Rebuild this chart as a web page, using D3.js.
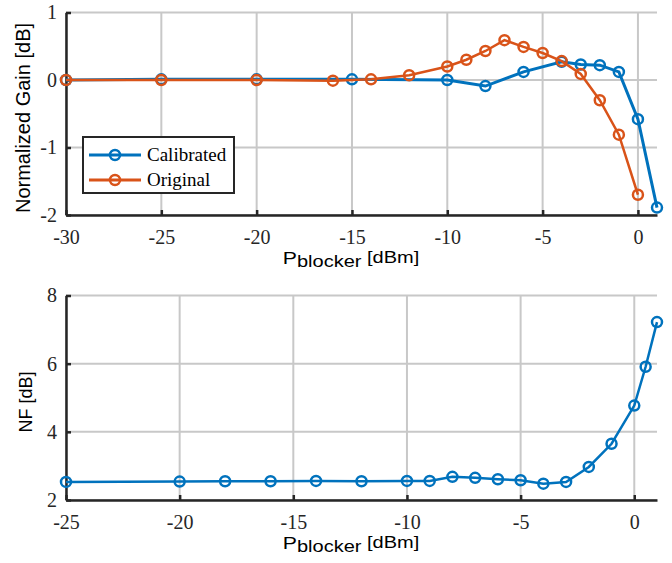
<!DOCTYPE html>
<html>
<head>
<meta charset="utf-8">
<script src="https://cdn.jsdelivr.net/npm/d3@7"></script>
<style>
  body { margin: 0; background: #fff; }
</style>
</head>
<body>
<svg width="672" height="563"></svg>
<script>
// gain vs blocker power (top)
var gainX = [-30, -25, -20, -15, -10, -8, -6, -4, -3, -2, -1, 0, 1];
var gainCal = [0, 0.01, 0.01, 0.01, 0, -0.09, 0.12, 0.27, 0.23, 0.22, 0.12, -0.58, -1.89];
var origX = [-30, -25, -20, -16, -14, -12, -10, -9, -8, -7, -6, -5, -4, -3, -2, -1, 0];
var gainOrig = [0, 0, 0, -0.01, 0.01, 0.07, 0.2, 0.3, 0.43, 0.59, 0.49, 0.4, 0.28, 0.09, -0.3, -0.81, -1.7];
// noise figure (bottom)
var nfX = [-25, -20, -18, -16, -14, -12, -10, -9, -8, -7, -6, -5, -4, -3, -2, -1, 0, 0.5, 1];
var nfVal = [2.53, 2.54, 2.55, 2.55, 2.56, 2.55, 2.56, 2.56, 2.68, 2.65, 2.61, 2.58, 2.48, 2.53, 2.97, 3.65, 4.77, 5.91, 7.22];

var topXTicks = [-30, -25, -20, -15, -10, -5, 0];
var topYTicks = [-2, -1, 0, 1];
var botXTicks = [-25, -20, -15, -10, -5, 0];
var botYTicks = [2, 4, 6, 8];

var blue = "#0072BD", orange = "#D95319";
var serif = "'Liberation Serif', 'Times New Roman', serif",
    sans = "'Liberation Sans', Arial, sans-serif";
var svg = d3.select("svg");

function panel(xDom, yDom, top, bottom, xt, yt, ylabel, ySize, yLabX, yLabMid) {
  var x = d3.scaleLinear().domain(xDom).range([66, 657]);
  var y = d3.scaleLinear().domain(yDom).range([bottom, top]);
  var g = svg.append("g");

  // grid
  g.selectAll(".gx").data(xt).enter().append("line")
    .attr("x1", d => x(d)).attr("x2", d => x(d))
    .attr("y1", top).attr("y2", bottom)
    .attr("stroke", "#c8c8c8").attr("stroke-width", 2);
  g.selectAll(".gy").data(yt).enter().append("line")
    .attr("x1", 66).attr("x2", 657)
    .attr("y1", d => y(d)).attr("y2", d => y(d))
    .attr("stroke", "#c8c8c8").attr("stroke-width", 2);

  var ax = g.append("g").attr("transform", "translate(0," + bottom + ")")
    .call(d3.axisBottom(x).tickValues(xt).tickSizeInner(-5).tickSizeOuter(0).tickPadding(15));
  var ay = g.append("g").attr("transform", "translate(66,0)")
    .call(d3.axisLeft(y).tickValues(yt).tickSizeInner(-5).tickSizeOuter(0).tickPadding(9));
  [ax, ay].forEach(a => {
    a.attr("font-size", null).attr("font-family", null);
    a.select(".domain").attr("stroke", "#262626").attr("stroke-width", 2.5);
    a.selectAll(".tick line").attr("stroke", "#262626").attr("stroke-width", 2.5);
    a.selectAll(".tick text").text(d => d)
      .style("font-family", serif).style("font-size", "20px").attr("fill", "#262626");
  });

  // x label, a little wider than the plain font
  var t = g.append("text").style("font-family", sans).attr("fill", "#000")
    .attr("transform", "translate(351," + (bottom + 49) + ") scale(1.25,1)")
    .attr("text-anchor", "middle");
  t.append("tspan").style("font-size", "17px").text("P");
  t.append("tspan").style("font-size", "16px").attr("dy", 3).text("blocker");
  t.append("tspan").style("font-size", "16px").attr("dy", -4).text(" [dBm]");

  g.append("text").style("font-family", sans).attr("fill", "#000")
    .attr("transform", "translate(" + yLabX + "," + yLabMid + ") rotate(-90)")
    .attr("text-anchor", "middle").style("font-size", ySize + "px").text(ylabel);

  return {x: x, y: y, g: g};
}

function series(p, xs, ys, color, w) {
  var pts = xs.map((d, i) => [d, ys[i]]);
  p.g.append("path").datum(pts)
    .attr("fill", "none").attr("stroke", color).attr("stroke-width", w)
    .attr("d", d3.line().x(d => p.x(d[0])).y(d => p.y(d[1])));
  p.g.selectAll(null).data(pts).enter().append("circle")
    .attr("cx", d => p.x(d[0])).attr("cy", d => p.y(d[1]))
    .attr("r", 5).attr("fill", "none").attr("stroke", color).attr("stroke-width", 2.5);
}

var p1 = panel([-30, 1], [-2, 1], 12.5, 215, topXTicks, topYTicks, "Normalized Gain [dB]", 20, 30, 118);
series(p1, gainX, gainCal, blue, 3);
series(p1, origX, gainOrig, orange, 2.5);

// legend
var lg = p1.g.append("g").attr("transform", "translate(83,137)");
lg.append("rect").attr("width", 151).attr("height", 56)
  .attr("fill", "#fff").attr("stroke", "#262626").attr("stroke-width", 2);
[["Calibrated", blue], ["Original", orange]].forEach((d, i) => {
  var yy = 18 + i * 25;
  lg.append("line").attr("x1", 6).attr("x2", 58).attr("y1", yy).attr("y2", yy)
    .attr("stroke", d[1]).attr("stroke-width", 3);
  lg.append("circle").attr("cx", 32).attr("cy", yy).attr("r", 5)
    .attr("fill", "none").attr("stroke", d[1]).attr("stroke-width", 2.5);
  lg.append("text").attr("x", 64).attr("y", yy + 6)
    .style("font-family", serif).style("font-size", "19px").attr("fill", "#000").text(d[0]);
});

var p2 = panel([-25, 1], [2, 8], 295.5, 500, botXTicks, botYTicks, "NF [dB]", 18, 32, 402);
series(p2, nfX, nfVal, blue, 2.5);
</script>
</body>
</html>
